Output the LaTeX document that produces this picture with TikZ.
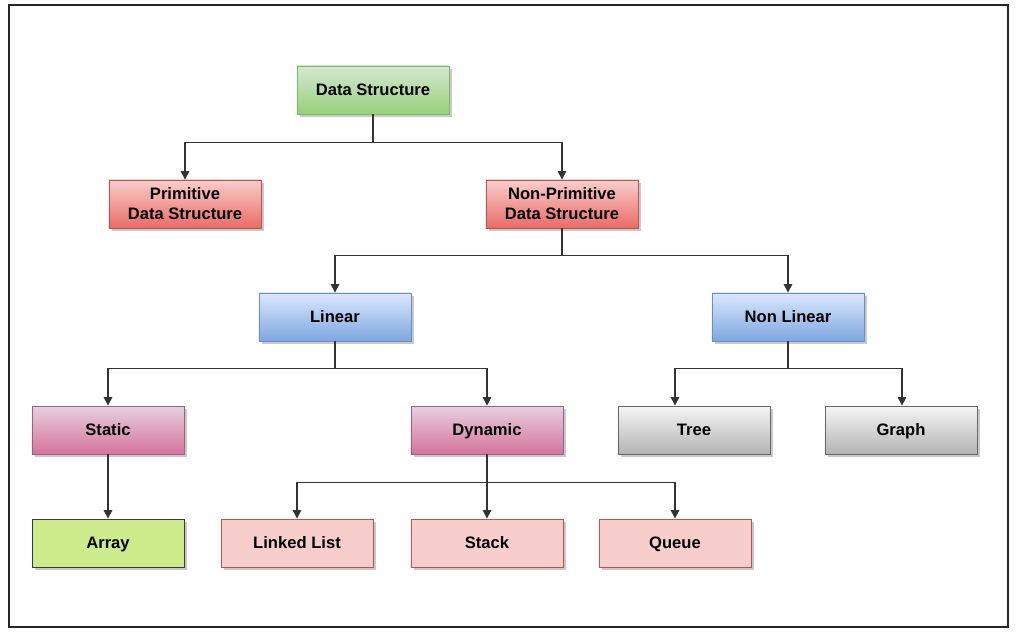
\documentclass[tikz,border=0pt]{standalone}
\usepackage{fontspec}
\setmainfont{Liberation Sans}
\usepackage{xcolor}
\usetikzlibrary{positioning,arrows.meta,shadows,calc}
\definecolor{cGreenTop}{HTML}{D5E8D4}
\definecolor{cGreenBot}{HTML}{97D077}
\definecolor{cGreenLine}{HTML}{82B366}
\definecolor{cRedTop}{HTML}{F8CECC}
\definecolor{cRedBot}{HTML}{EA6B66}
\definecolor{cRedLine}{HTML}{B85450}
\definecolor{cBlueTop}{HTML}{DAE8FC}
\definecolor{cBlueBot}{HTML}{7EA6E0}
\definecolor{cBlueLine}{HTML}{6C8EBF}
\definecolor{cPinkTop}{HTML}{E6D0DE}
\definecolor{cPinkBot}{HTML}{D5739D}
\definecolor{cPinkLine}{HTML}{996185}
\definecolor{cGrayTop}{HTML}{F5F5F5}
\definecolor{cGrayBot}{HTML}{B3B3B3}
\definecolor{cGrayLine}{HTML}{666666}
\definecolor{cLime}{HTML}{CDEB8B}
\definecolor{cLimeLine}{HTML}{36393D}
\definecolor{cWire}{HTML}{333333}
\tikzset{
  box/.style={minimum width=3.8cm, minimum height=1.2cm, inner sep=0pt,
              align=center, line width=0.6pt,
              font=\fontsize{11.8}{14.2}\selectfont\bfseries,
              drop shadow={shadow xshift=2pt, shadow yshift=-2pt,
                           opacity=0.3, fill=black!70}},
  one/.style={text height=8.7pt, text depth=0.3pt},
  boxGreen/.style={box, draw=cGreenLine, top color=cGreenTop, bottom color=cGreenBot},
  boxRed/.style={box, draw=cRedLine, top color=cRedTop, bottom color=cRedBot},
  boxBlue/.style={box, one, draw=cBlueLine, top color=cBlueTop, bottom color=cBlueBot},
  boxPink/.style={box, one, draw=cPinkLine, top color=cPinkTop, bottom color=cPinkBot},
  boxGray/.style={box, one, draw=cGrayLine, top color=cGrayTop, bottom color=cGrayBot},
  boxLime/.style={box, one, draw=cLimeLine, fill=cLime},
  boxLeaf/.style={box, one, draw=cRedLine, fill=cRedTop},
  wire/.style={draw=cWire, line width=0.9pt, -{Triangle[length=6pt, width=6pt]}},
}

\begin{document}
\begin{tikzpicture}[x=0.025cm, y=0.025cm]

% ========== FRAME ==========
\useasboundingbox (0,0) rectangle (1019,-632);
\draw[line width=1.4pt, black!85] (9,-5) rectangle (1008,-627);

% ========== LEVEL 0-1 ==========
\node[boxGreen, one] (ds) at (373,-90)  {Data Structure};
\node[boxRed]   (prim)  at (185,-204) {Primitive\\Data Structure};
\node[boxRed]   (nprim) at (562,-204) {Non-Primitive\\Data Structure};

% ========== LEVEL 2 ==========
\node[boxBlue] (lin)  at (335,-317) {Linear};
\node[boxBlue] (nlin) at (788,-317) {Non Linear};

% ========== LEVEL 3 ==========
\node[boxPink] (stat)  at (108,-430) {Static};
\node[boxPink] (dyn)   at (487,-430) {Dynamic};
\node[boxGray] (tree)  at (694,-430) {Tree};
\node[boxGray] (graph) at (901,-430) {Graph};

% ========== LEVEL 4 ==========
\node[boxLime] (arr)   at (108,-543) {Array};
\node[boxLeaf] (llist) at (297,-543) {Linked List};
\node[boxLeaf] (stack) at (487,-543) {Stack};
\node[boxLeaf] (queue) at (675,-543) {Queue};

% ========== CONNECTORS ==========
\draw[wire] (ds.south) -- ++(0,-28) -| (prim.north);
\draw[wire] (ds.south) -- ++(0,-28) -| (nprim.north);
\draw[wire] (nprim.south) -- ++(0,-27) -| (lin.north);
\draw[wire] (nprim.south) -- ++(0,-27) -| (nlin.north);
\draw[wire] (lin.south) -- ++(0,-27) -| (stat.north);
\draw[wire] (lin.south) -- ++(0,-27) -| (dyn.north);
\draw[wire] (nlin.south) -- ++(0,-27) -| ([xshift=-19*0.025cm]tree.north);
\draw[wire] (nlin.south) -- ++(0,-27) -| ([xshift=1*0.025cm]graph.north);
\draw[wire] (stat.south) -- (arr.north);
\draw[wire] (dyn.south) -- ++(0,-28) -| (llist.north);
\draw[wire] (dyn.south) -- ++(0,-28) -| (stack.north);
\draw[wire] (dyn.south) -- ++(0,-28) -| (queue.north);

\end{tikzpicture}
\end{document}
